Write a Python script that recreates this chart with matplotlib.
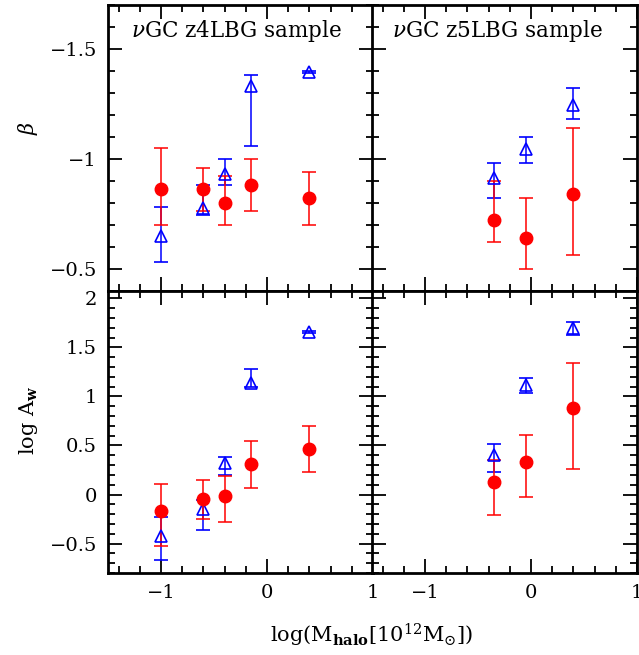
import matplotlib
matplotlib.use('Agg')
import matplotlib.pyplot as plt
from matplotlib.ticker import MultipleLocator, NullFormatter, FuncFormatter

plt.rcParams['font.family'] = 'DejaVu Serif'
plt.rcParams['mathtext.fontset'] = 'dejavuserif'

# z4LBG sample
x_z4 = [-1.0, -0.6, -0.4, -0.15, 0.4]
beta_red_z4 = [-0.86, -0.86, -0.80, -0.88, -0.82]
beta_red_z4_lo = [-1.05, -0.96, -0.92, -1.00, -0.94]
beta_red_z4_hi = [-0.70, -0.76, -0.70, -0.76, -0.70]
beta_blue_z4 = [-0.65, -0.775, -0.93, -1.33, -1.395]
beta_blue_z4_lo = [-0.78, -0.88, -1.00, -1.38, -1.40]
beta_blue_z4_hi = [-0.53, -0.745, -0.88, -1.06, -1.39]

logA_red_z4 = [-0.165, -0.05, -0.01, 0.31, 0.465]
logA_red_z4_lo = [-0.52, -0.25, -0.28, 0.07, 0.23]
logA_red_z4_hi = [0.11, 0.145, 0.19, 0.545, 0.70]
logA_blue_z4 = [-0.42, -0.15, 0.32, 1.14, 1.655]
logA_blue_z4_lo = [-0.67, -0.36, 0.195, 1.10, 1.645]
logA_blue_z4_hi = [-0.23, -0.06, 0.385, 1.28, 1.665]

# z5LBG sample
x_z5 = [-0.35, -0.05, 0.4]
beta_red_z5 = [-0.72, -0.64, -0.84]
beta_red_z5_lo = [-0.90, -0.82, -1.14]
beta_red_z5_hi = [-0.62, -0.50, -0.56]
beta_blue_z5 = [-0.91, -1.045, -1.245]
beta_blue_z5_lo = [-0.98, -1.10, -1.32]
beta_blue_z5_hi = [-0.82, -0.98, -1.18]

logA_red_z5 = [0.13, 0.33, 0.88]
logA_red_z5_lo = [-0.21, -0.03, 0.265]
logA_red_z5_hi = [0.35, 0.605, 1.34]
logA_blue_z5 = [0.40, 1.12, 1.70]
logA_blue_z5_lo = [0.23, 1.04, 1.63]
logA_blue_z5_hi = [0.52, 1.19, 1.76]


def errs(v, lo, hi):
    return [[a - b for a, b in zip(v, lo)], [c - a for a, c in zip(v, hi)]]


def draw(ax, x, vb, vb_lo, vb_hi, vr, vr_lo, vr_hi):
    ax.errorbar(x, vb, yerr=errs(vb, vb_lo, vb_hi), fmt='^', color='blue',
                mfc='none', mec='blue', ms=8.5, mew=1.2, elinewidth=1.1,
                capsize=5, capthick=1.1)
    ax.errorbar(x, vr, yerr=errs(vr, vr_lo, vr_hi), fmt='o', color='red',
                mfc='red', mec='red', ms=9, elinewidth=1.1,
                capsize=5, capthick=1.1)


def fmt(v, pos):
    s = '%g' % v
    return s.replace('-', '\u2212')


def style(ax, ymaj, ymin):
    ax.set_xlim(-1.5, 1.0)
    ax.xaxis.set_major_locator(MultipleLocator(1))
    ax.xaxis.set_minor_locator(MultipleLocator(0.2))
    ax.yaxis.set_major_locator(MultipleLocator(ymaj))
    ax.yaxis.set_minor_locator(MultipleLocator(ymin))
    ax.xaxis.set_major_formatter(FuncFormatter(fmt))
    ax.yaxis.set_major_formatter(FuncFormatter(fmt))
    ax.tick_params(which='both', direction='in', top=True, right=True, width=1.3)
    ax.tick_params(which='major', length=10, labelsize=14, pad=8)
    ax.tick_params(which='minor', length=5)
    for s in ax.spines.values():
        s.set_linewidth(2)


fig = plt.figure(figsize=(6.39, 6.55), dpi=100)
W = 639.0
H = 655.0
lx, rx, pw = 108 / W, 372 / W, 265 / W
top_b, top_h = (655 - 290.5) / H, 285.5 / H
bot_b, bot_h = (655 - 573) / H, 282.5 / H

ax1 = fig.add_axes([lx, top_b, pw, top_h])
ax2 = fig.add_axes([rx, top_b, pw, top_h])
ax3 = fig.add_axes([lx, bot_b, pw, bot_h])
ax4 = fig.add_axes([rx, bot_b, pw, bot_h])

draw(ax1, x_z4, beta_blue_z4, beta_blue_z4_lo, beta_blue_z4_hi,
     beta_red_z4, beta_red_z4_lo, beta_red_z4_hi)
draw(ax2, x_z5, beta_blue_z5, beta_blue_z5_lo, beta_blue_z5_hi,
     beta_red_z5, beta_red_z5_lo, beta_red_z5_hi)
draw(ax3, x_z4, logA_blue_z4, logA_blue_z4_lo, logA_blue_z4_hi,
     logA_red_z4, logA_red_z4_lo, logA_red_z4_hi)
draw(ax4, x_z5, logA_blue_z5, logA_blue_z5_lo, logA_blue_z5_hi,
     logA_red_z5, logA_red_z5_lo, logA_red_z5_hi)

for ax in (ax1, ax2, ax3, ax4):
    style(ax, 0.5, 0.1)
for ax in (ax1, ax2):
    ax.set_ylim(-0.4, -1.7)
    ax.xaxis.set_major_formatter(NullFormatter())
for ax in (ax3, ax4):
    ax.set_ylim(-0.8, 2.08)
for ax in (ax2, ax4):
    ax.yaxis.set_major_formatter(NullFormatter())

ax1.text(0.087, 0.91, r'$\nu$GC z4LBG sample', transform=ax1.transAxes,
         fontsize=15.5, va='center')
ax2.text(0.075, 0.91, r'$\nu$GC z5LBG sample', transform=ax2.transAxes,
         fontsize=15.5, va='center')

fig.text(28 / W, 1 - 128 / H, r'$\beta$', fontsize=15, rotation=90,
         ha='center', va='center')
fig.text(28 / W, 1 - 420 / H, r'log A$_{\mathbf{w}}$', fontsize=15,
         rotation=90, ha='center', va='center')
fig.text(372 / W, 1 - 635 / H,
         r'log(M$_{\mathbf{halo}}$[10$^{12}$M$_{\odot}$])', fontsize=15,
         ha='center', va='center')

fig.savefig('out.png', dpi=100)
